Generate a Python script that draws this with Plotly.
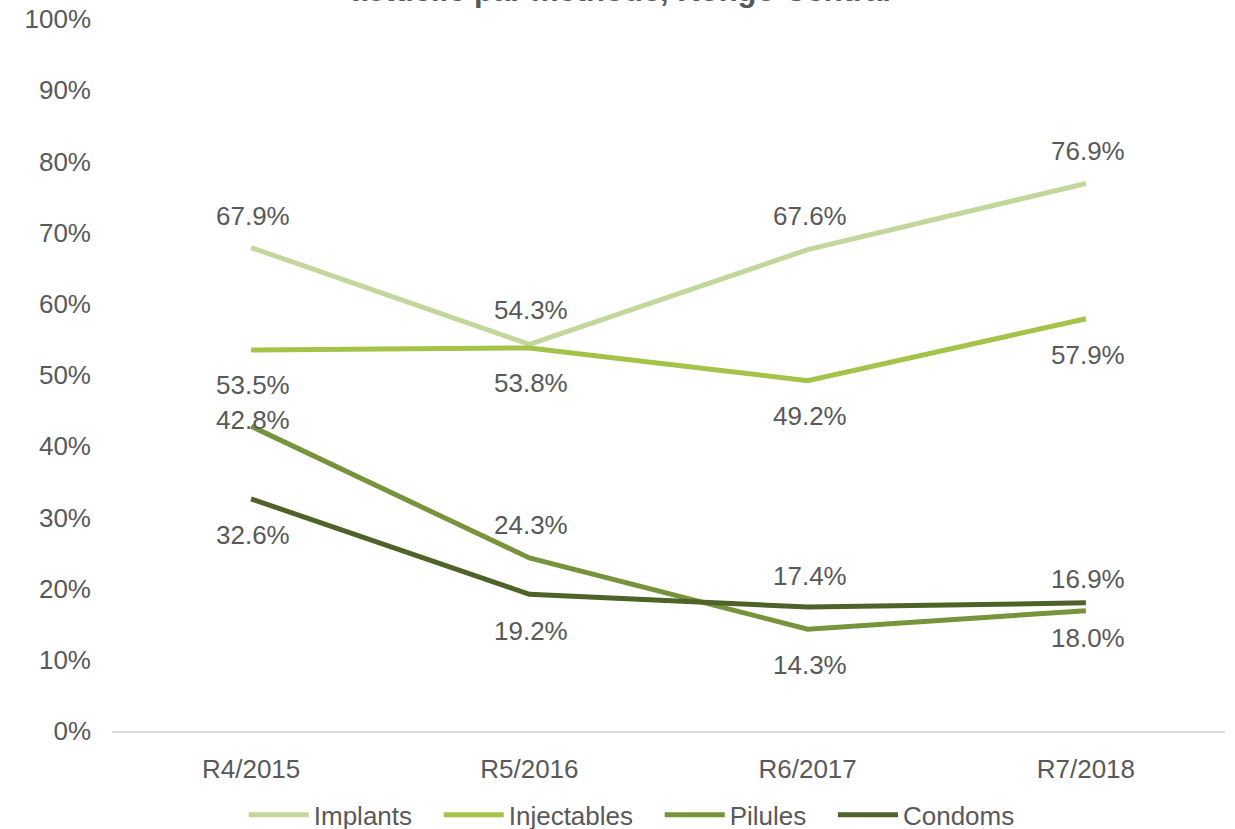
import plotly.graph_objects as go

# Survey rounds and share (%) by contraceptive method
rounds = ["R4/2015", "R5/2016", "R6/2017", "R7/2018"]
implants = [67.9, 54.3, 67.6, 76.9]
injectables = [53.5, 53.8, 49.2, 57.9]
pilules = [42.8, 24.3, 14.3, 16.9]
condoms = [32.6, 19.2, 17.4, 18.0]

series = [
    ("Implants", implants, "#C3D69B"),
    ("Injectables", injectables, "#A5C249"),
    ("Pilules", pilules, "#77933C"),
    ("Condoms", condoms, "#4F6228"),
]

# vertical offset (px, up is positive) of each value label from its point
label_shift = {
    "Implants": [32, 34, 34, 32],
    "Injectables": [-35, -35, -35, -36],
    "Pilules": [6, 33, -36, 32],
    "Condoms": [-36, -37, 31, -35],
}

FONT = "Liberation Sans, Arial, sans-serif"
GREY = "#595959"
FS = 26
PAD = "\u00a0" * 3  # extra room between legend entries

fig = go.Figure()
annotations = []
for i, (name, vals, color) in enumerate(series):
    legend_name = name + (PAD if i < len(series) - 1 else "")
    fig.add_trace(go.Scatter(
        x=rounds, y=vals, name=legend_name, mode="lines",
        line=dict(color=color, width=5),
        hoverinfo="skip",
    ))
    for r, v, s in zip(rounds, vals, label_shift[name]):
        annotations.append(dict(
            x=r, y=v, xref="x", yref="y", text=f"{v:.1f}%",
            showarrow=False, yshift=s, xshift=2,
            font=dict(family=FONT, size=FS, color=GREY),
        ))

# second line of the chart title (first line falls outside the canvas)
annotations.append(dict(
    x=0.457, y=1, xref="paper", yref="paper", xanchor="center", yanchor="bottom",
    text="<b>actuelle par méthode, Kongo Central</b>", showarrow=False, yshift=9,
    font=dict(family=FONT, size=31, color=GREY),
))

fig.update_layout(
    width=1235, height=829,
    margin=dict(l=112, r=10, t=19, b=98, autoexpand=False),
    paper_bgcolor="white", plot_bgcolor="white",
    font=dict(family=FONT, size=FS, color=GREY),
    showlegend=True,
    legend=dict(
        orientation="h", x=0.467, xanchor="center",
        yref="container", y=0.017, yanchor="middle",
        font=dict(family=FONT, size=FS, color=GREY),
        itemwidth=60, tracegroupgap=0,
    ),
    annotations=annotations,
    xaxis=dict(
        type="category", range=[-0.5, 3.5],
        showgrid=False, zeroline=False,
        showline=True, linecolor="#D9D9D9", linewidth=1.5,
        ticks="", ticklabelstandoff=14, automargin=False,
        tickfont=dict(family=FONT, size=FS, color=GREY),
    ),
    yaxis=dict(
        range=[0, 100], dtick=10, ticksuffix="%",
        showgrid=False, zeroline=False, showline=False,
        ticks="", ticklabelstandoff=20, automargin=False,
        tickfont=dict(family=FONT, size=FS, color=GREY),
    ),
)

fig.write_html("out.html")
